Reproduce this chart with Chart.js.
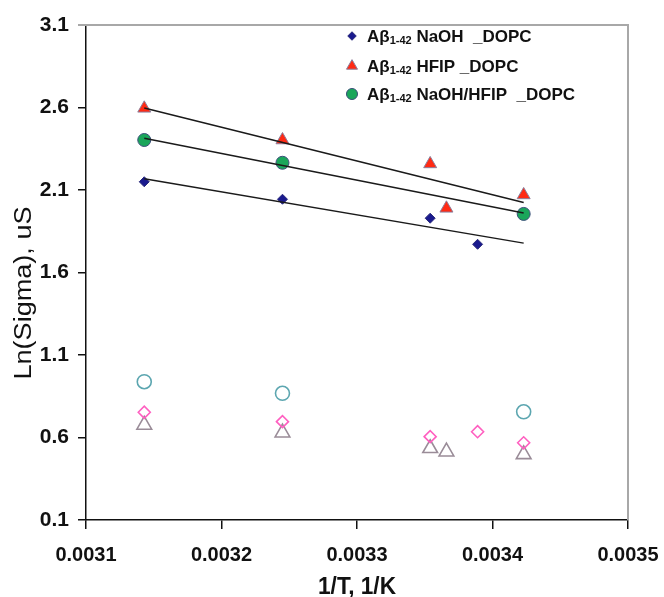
<!DOCTYPE html>
<html><head><meta charset="utf-8">
<script src="https://cdn.jsdelivr.net/npm/chart.js@4.4.1/dist/chart.umd.min.js"></script>
<style>html,body{margin:0;padding:0;background:#fff}#wrap{width:664px;height:597px;position:relative}</style>
</head><body><div id="wrap"><canvas id="c" width="664" height="597"></canvas></div>
<script>
// ---- data ----
const xTickValues = [0.0031, 0.0032, 0.0033, 0.0034, 0.0035];
const yTickValues = [0.1, 0.6, 1.1, 1.6, 2.1, 2.6, 3.1];

const naohX = [0.003143, 0.003245, 0.003354, 0.003389];
const naohY = [2.150, 2.044, 1.929, 1.771];
const hfipX = [0.003143, 0.003245, 0.003354, 0.003366, 0.003423];
const hfipY = [2.595, 2.403, 2.258, 1.989, 2.070];
const mixX = [0.003143, 0.003245, 0.003423];
const mixY = [2.403, 2.265, 1.955];

const openCircleX = [0.003143, 0.003245, 0.003423];
const openCircleY = [0.938, 0.868, 0.756];
const openDiamondX = [0.003143, 0.003245, 0.003354, 0.003389, 0.003423];
const openDiamondY = [0.753, 0.696, 0.605, 0.635, 0.568];
const openTriangleX = [0.003143, 0.003245, 0.003354, 0.003366, 0.003423];
const openTriangleY = [0.676, 0.629, 0.535, 0.514, 0.498];

const trendRange = [0.003143, 0.003423];

const legendPrefix = 'Aβ';
const legendSub = '1-42';
const legendNames = [' NaOH  _DOPC', ' HFIP _DOPC', ' NaOH/HFIP  _DOPC'];
const xTitle = '1/T, 1/K';
const yTitle = 'Ln(Sigma), uS';

// ---- helpers ----
function pts(xs, ys) { return xs.map((x, i) => ({ x: x, y: ys[i] })); }
function trend(xs, ys) {
  const n = xs.length;
  const mx = xs.reduce((a, b) => a + b, 0) / n;
  const my = ys.reduce((a, b) => a + b, 0) / n;
  let sxy = 0, sxx = 0;
  for (let i = 0; i < n; i++) { sxy += (xs[i] - mx) * (ys[i] - my); sxx += (xs[i] - mx) * (xs[i] - mx); }
  const b = sxy / sxx, a = my - b * mx;
  return trendRange.map(x => ({ x: x, y: a + b * x }));
}

const FONT = '"Liberation Sans", Arial, sans-serif';

const markerStyles = [
  { pointStyle: 'rectRot', radius: 5, bg: '#1a1a8e', border: '#2a2a7a', bw: 1 },
  { pointStyle: 'triangle', radius: 7.5, bg: '#ff2a14', border: '#8c7f9c', bw: 1 },
  { pointStyle: 'circle', radius: 6.5, bg: '#1aa65a', border: '#3b4f7a', bw: 1 }
];

const trendStyle = { borderColor: '#1a1a1a', borderWidth: 1.5, pointRadius: 0, showLine: true, fill: false, order: 0 };

const datasets = [
  Object.assign({ label: 't1', data: trend(naohX, naohY) }, trendStyle),
  Object.assign({ label: 't2', data: trend(hfipX, hfipY) }, trendStyle),
  Object.assign({ label: 't3', data: trend(mixX, mixY) }, trendStyle),
  { label: legendPrefix + legendSub + legendNames[0], data: pts(naohX, naohY), pointStyle: 'rectRot', pointRadius: 5, backgroundColor: '#1a1a8e', borderColor: '#2a2a7a', borderWidth: 1, order: 1 },
  { label: legendPrefix + legendSub + legendNames[1], data: pts(hfipX, hfipY), pointStyle: 'triangle', pointRadius: 7.5, backgroundColor: '#ff2a14', borderColor: '#8c7f9c', borderWidth: 1, order: 1 },
  { label: legendPrefix + legendSub + legendNames[2], data: pts(mixX, mixY), pointStyle: 'circle', pointRadius: 6.5, backgroundColor: '#1aa65a', borderColor: '#3b4f7a', borderWidth: 1, order: 1 },
  { label: 'open circles', data: pts(openCircleX, openCircleY), pointStyle: 'circle', pointRadius: 7, backgroundColor: 'rgba(255,255,255,0)', borderColor: '#5ca6b0', borderWidth: 1.6, order: 1 },
  { label: 'open diamonds', data: pts(openDiamondX, openDiamondY), pointStyle: 'rectRot', pointRadius: 6, backgroundColor: 'rgba(255,255,255,0)', borderColor: '#ff5fc0', borderWidth: 1.6, order: 1 },
  { label: 'open triangles', data: pts(openTriangleX, openTriangleY), pointStyle: 'triangle', pointRadius: 8.5, backgroundColor: 'rgba(255,255,255,0)', borderColor: '#9a8c98', borderWidth: 1.6, order: 1 }
];

const decor = {
  id: 'decor',
  afterDraw(chart) {
    const ctx = chart.ctx, a = chart.chartArea;
    ctx.save();
    // gray top & right frame
    ctx.strokeStyle = '#a8a8a8';
    ctx.lineWidth = 2;
    ctx.beginPath();
    ctx.moveTo(a.left - 8, a.top);
    ctx.lineTo(a.right, a.top);
    ctx.lineTo(a.right, a.bottom);
    ctx.stroke();

    // x title
    ctx.fillStyle = '#111';
    ctx.font = 'bold 24px ' + FONT;
    ctx.textAlign = 'center';
    ctx.textBaseline = 'alphabetic';
    let w = ctx.measureText(xTitle).width;
    ctx.save();
    ctx.translate((a.left + a.right) / 2, 594);
    ctx.scale(78 / w, 1);
    ctx.fillText(xTitle, 0, 0);
    ctx.restore();

    // y title
    ctx.font = '23px ' + FONT;
    w = ctx.measureText(yTitle).width;
    ctx.save();
    ctx.translate(31, 293);
    ctx.rotate(-Math.PI / 2);
    ctx.scale(173 / w, 1);
    ctx.textBaseline = 'alphabetic';
    ctx.fillText(yTitle, 0, 0);
    ctx.restore();

    // legend
    const rowsY = [36, 66, 94];
    for (let i = 0; i < 3; i++) {
      const m = markerStyles[i];
      const y = rowsY[i];
      ctx.fillStyle = m.bg; ctx.strokeStyle = m.border; ctx.lineWidth = m.bw;
      Chart.helpers.drawPoint(ctx, { pointStyle: m.pointStyle, radius: m.radius * 0.85, borderWidth: m.bw, rotation: 0 }, 352, y);
      let x = 367;
      const base = y + 6;
      ctx.fillStyle = '#111';
      ctx.textAlign = 'left';
      ctx.font = 'bold 17px ' + FONT;
      ctx.fillText(legendPrefix, x, base);
      x += ctx.measureText(legendPrefix).width;
      ctx.font = 'bold 11px ' + FONT;
      ctx.fillText(legendSub, x, base + 2);
      x += ctx.measureText(legendSub).width;
      ctx.font = 'bold 17px ' + FONT;
      ctx.fillText(legendNames[i], x, base);
    }
    ctx.restore();
  }
};

new Chart(document.getElementById('c'), {
  type: 'scatter',
  data: { datasets: datasets },
  plugins: [decor],
  options: {
    responsive: false,
    animation: false,
    devicePixelRatio: 1,
    layout: { padding: { top: 25, right: 36, left: 0, bottom: 0 } },
    plugins: { legend: { display: false }, tooltip: { enabled: false } },
    scales: {
      x: {
        type: 'linear',
        min: xTickValues[0],
        max: xTickValues[xTickValues.length - 1],
        afterFit(s) { s.height = 77; s.paddingLeft = 0; s.paddingRight = 0; },
        afterBuildTicks(s) { s.ticks = xTickValues.map(v => ({ value: v })); },
        grid: { display: true, drawOnChartArea: false, drawTicks: true, tickLength: 9, color: '#111', lineWidth: 1.5 },
        border: { display: true, color: '#111', width: 1.5 },
        ticks: {
          color: '#111',
          font: { family: FONT, size: 20, weight: 'bold' },
          padding: 14,
          maxRotation: 0,
          autoSkip: false,
          callback: v => Number(v).toFixed(4)
        },
        title: { display: false }
      },
      y: {
        type: 'linear',
        min: yTickValues[0],
        max: yTickValues[yTickValues.length - 1],
        afterFit(s) { s.width = 86; s.paddingTop = 0; s.paddingBottom = 0; },
        afterBuildTicks(s) { s.ticks = yTickValues.map(v => ({ value: v })); },
        grid: { display: true, drawOnChartArea: false, drawTicks: true, tickLength: 8, color: '#111', lineWidth: 1.5 },
        border: { display: true, color: '#111', width: 1.5 },
        ticks: {
          color: '#111',
          font: { family: FONT, size: 21, weight: 'bold' },
          padding: 9,
          autoSkip: false,
          callback: v => Number(v).toFixed(1)
        },
        title: { display: false }
      }
    }
  }
});
</script>
</body></html>
